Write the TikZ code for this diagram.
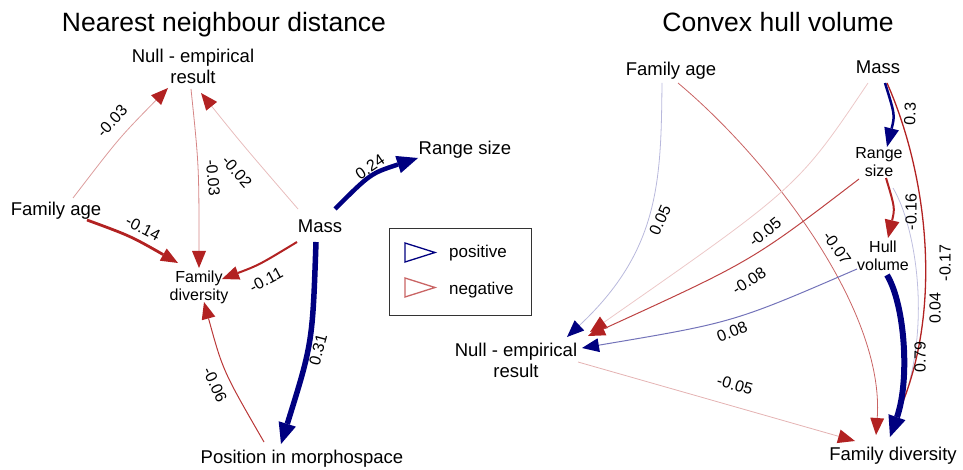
\documentclass[tikz,border=0pt]{standalone}
\usepackage{fontspec}
\setmainfont{Liberation Sans}
\usetikzlibrary{arrows.meta}
\definecolor{navyc}{RGB}{0,0,128}
\definecolor{redc}{RGB}{178,34,34}
\begin{document}
\begin{tikzpicture}[x=1pt,y=-1pt,
  title/.style={font=\fontsize{26.5}{30}\selectfont, inner sep=0pt, anchor=base},
  vtx/.style={font=\fontsize{18.5}{21}\selectfont, align=center, inner sep=0pt, anchor=base},
  vsm/.style={font=\fontsize{16}{18}\selectfont, align=center, inner sep=0pt, anchor=base},
  lab/.style={font=\fontsize{16}{16}\selectfont, inner sep=0pt, anchor=center},
  legtxt/.style={font=\fontsize{17}{17}\selectfont, inner sep=0pt, anchor=base west},
  negtip/.style={-{Triangle[length=17pt,width=14pt,color=redc,line width=0pt]}},
  postip/.style={-{Triangle[length=17pt,width=14pt,color=navyc,line width=0pt]}},
  posbig/.style={-{Triangle[length=21pt,width=18pt,color=navyc,line width=0pt]}},
  posmid/.style={-{Triangle[length=19pt,width=15pt,color=navyc,line width=0pt]}},
  negmid/.style={-{Triangle[length=18pt,width=15pt,color=redc,line width=0pt]}},
]
\useasboundingbox (0,0) rectangle (963,470);

% ---------- left diagram ----------
\node[title] (titleL) at (224,32) {Nearest neighbour distance};
\node[vtx] (nullL) at (193,84) {Null - empirical\\result};
\node[vtx] (ageL) at (56,216) {Family age};
\node[vtx] (massL) at (320,233) {Mass};
\node[vtx] (rangeL) at (465,155) {Range size};
\node[vsm] (fdL) at (199,300) {Family\\diversity};
\node[vtx] (posL) at (302,463) {Position in morphospace};

\draw[redc!45, line width=0.8pt, negtip] ([shift={(17,-18)}]ageL.base) .. controls (119,138) .. ([shift={(-25,4)}]nullL.base);
\draw[redc!55, line width=0.8pt, negtip] ([shift={(-2,5)}]nullL.base) .. controls (199,166) .. ([shift={(0,-32)}]fdL.base);
\draw[redc!30, line width=0.8pt, negtip] ([shift={(-22,-24)}]massL.base) .. controls (242,144) .. ([shift={(8,9)}]nullL.base);
\draw[redc, line width=2.8pt, negtip] ([shift={(31,4)}]ageL.base) .. controls (130.5,236) .. ([shift={(-21,-37)}]fdL.base);
\draw[redc, line width=2pt, negtip] ([shift={(-23,9)}]massL.base) .. controls (259,265) .. ([shift={(23,-21)}]fdL.base);
\draw[redc!90, line width=1pt, negtip] ([shift={(-38,-21)}]posL.base) .. controls (223,371) .. ([shift={(5,2)}]fdL.base);
\draw[navyc, line width=4.5pt, posbig] ([shift={(15,-24)}]massL.base) .. controls (370.5,173.5) .. ([shift={(-47,3)}]rangeL.base);
\draw[navyc, line width=5.5pt, posbig] ([shift={(-4,9)}]massL.base) .. controls (312.5,343) .. ([shift={(-21,-19)}]posL.base);

\node[lab, rotate=47] (lA) at (112,121) {-0.03};
\node[lab, rotate=-85] (lB) at (213,178) {-0.03};
\node[lab, rotate=-49] (lC) at (237,172) {-0.02};
\node[lab, rotate=34] (lD) at (370,167) {0.24};
\node[lab, rotate=-27] (lE) at (143,228) {-0.14};
\node[lab, rotate=28] (lF) at (266,280) {-0.11};
\node[lab, rotate=75] (lG) at (318,350) {0.31};
\node[lab, rotate=-65] (lH) at (215,385) {-0.06};

% ---------- legend ----------
\draw[black!80, line width=1pt] (389,229) rectangle (531,315);
\draw[navyc, line width=1.3pt] (405,243) -- (435,252.5) -- (405,262) -- cycle;
\draw[redc!70, line width=1.3pt] (405,278) -- (435,287.5) -- (405,297) -- cycle;
\node[legtxt] (legPos) at (449,258) {positive};
\node[legtxt] (legNeg) at (449,294) {negative};

% ---------- right diagram ----------
\node[title] (titleR) at (778,32) {Convex hull volume};
\node[vtx] (ageR) at (671,76) {Family age};
\node[vtx] (massR) at (878,74) {Mass};
\node[vsm] (rangeR) at (879,177) {Range\\size};
\node[vsm] (hullR) at (883,270) {Hull\\volume};
\node[vtx] (nullR) at (516,377) {Null - empirical\\result};
\node[vtx] (fdR) at (893,460) {Family diversity};

\draw[navyc!28, line width=0.8pt, postip] ([shift={(-9,7)}]ageR.base) .. controls (661,180) and (660,250) .. ([shift={(51,-40)}]nullR.base);
\draw[redc!70, line width=0.8pt, negtip] ([shift={(7,7)}]ageR.base) .. controls (770,160) and (885,310) .. ([shift={(-17,-25)}]fdR.base);
\draw[redc!25, line width=0.8pt, negtip] ([shift={(-10,9)}]massR.base) .. controls (798,187) .. ([shift={(74,-45)}]nullR.base);
\draw[redc!85, line width=1pt, negtip] ([shift={(-20,2)}]rangeR.base) .. controls (752,261) .. ([shift={(72,-41)}]nullR.base);
\draw[navyc!55, line width=1pt, postip] ([shift={(-26,-1)}]hullR.base) .. controls (733.5,322.5) .. ([shift={(66,-29)}]nullR.base);
\draw[redc!35, line width=0.8pt, negtip] ([shift={(62,-15)}]nullR.base) -- ([shift={(-38,-19)}]fdR.base);
\draw[navyc!25, line width=0.8pt] ([shift={(14,11)}]rangeR.base) .. controls (918,230) and (935,345) .. ([shift={(-1,-32)}]fdR.base);
\draw[redc, line width=1.3pt] ([shift={(9,9)}]massR.base) .. controls (930,180) and (945,325) .. ([shift={(-2,-32)}]fdR.base);
\draw[redc, line width=2pt, negmid] ([shift={(7,1)}]rangeR.base) .. controls (895,208) .. ([shift={(5,-32)}]hullR.base);
\draw[navyc, line width=2.5pt, posmid] ([shift={(7,9)}]massR.base) .. controls (895,115) .. ([shift={(8,-30)}]rangeR.base);
\draw[navyc, line width=6pt, posbig] ([shift={(4,5)}]hullR.base) .. controls (905,305) and (910,380) .. ([shift={(-3,-23)}]fdR.base);

\node[lab, rotate=66] (rA) at (660,220) {0.05};
\node[lab, rotate=39] (rB) at (765,232) {-0.05};
\node[lab, rotate=-55] (rC) at (837,248) {-0.07};
\node[lab, rotate=33] (rD) at (749,281) {-0.08};
\node[lab, rotate=22] (rE) at (732,332) {0.08};
\node[lab, rotate=-16] (rF) at (735,385) {-0.05};
\node[lab, rotate=88] (rG) at (910,114) {0.3};
\node[lab, rotate=90] (rH) at (911,212) {-0.16};
\node[lab, rotate=90] (rI) at (945,263) {-0.17};
\node[lab, rotate=90] (rJ) at (935,308) {0.04};
\node[lab, rotate=90] (rK) at (920,357) {0.79};
\end{tikzpicture}
\end{document}
